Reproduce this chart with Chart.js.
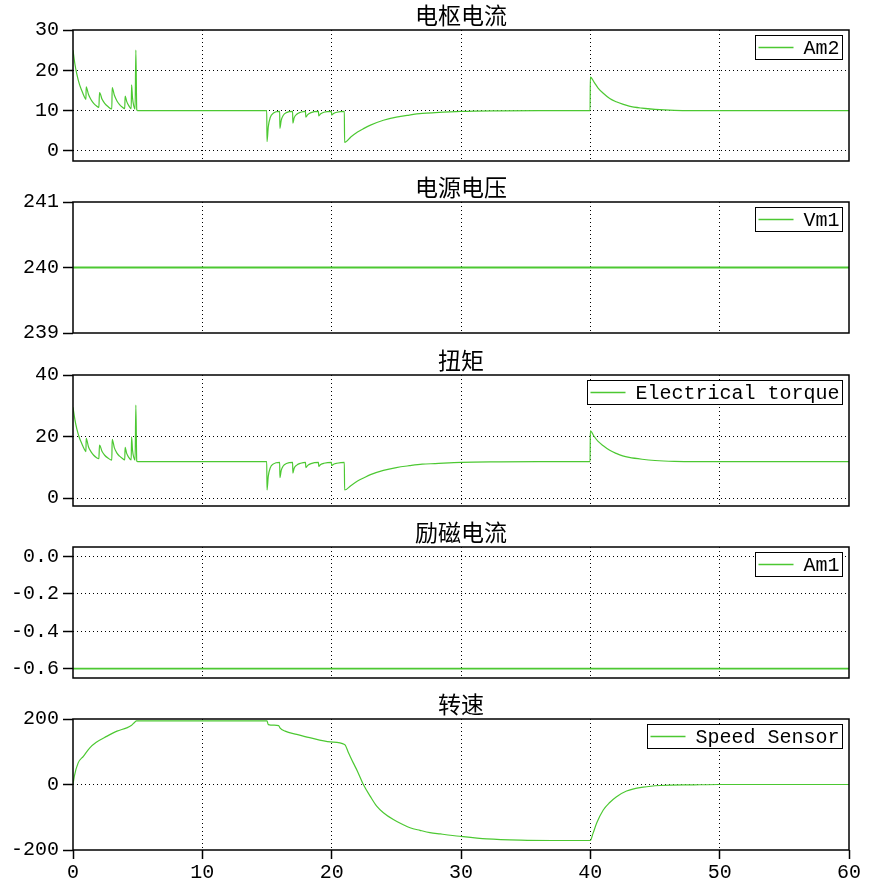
<!DOCTYPE html>
<html>
<head>
<meta charset="utf-8">
<script src="https://cdn.jsdelivr.net/npm/chart.js@4.4.1/dist/chart.umd.min.js"></script>
<style>
html,body{margin:0;padding:0;background:#fff;}
#wrap{position:relative;width:885px;height:885px;background:#fff;overflow:hidden;}
#wrap canvas{position:absolute;left:0;}
</style>
</head>
<body>
<div id="wrap"></div>
<script>
// ---------- data ----------
const xTicks = [0, 10, 20, 30, 40, 50, 60];

const titles = ['电枢电流', '电源电压', '扭矩', '励磁电流', '转速'];
const seriesLabels = ['Am2', 'Vm1', 'Electrical torque', 'Am1', 'Speed Sensor'];

// shared time base for armature current and torque (s)
const dynTimes = [
  0, 0.15, 0.3, 0.5, 0.7, 0.85, 1.0,
  1.02, 1.2, 1.4, 1.6, 1.8, 2.0,
  2.05, 2.25, 2.45, 2.7, 3.0,
  3.03, 3.2, 3.4, 3.6, 3.8, 4.0,
  4.03, 4.15, 4.3, 4.5,
  4.53, 4.6, 4.7, 4.8,
  4.86, 4.93, 5.0,
  14.98, 15.0, 15.1, 15.25, 15.5, 15.98,
  16.0, 16.1, 16.25, 16.5, 16.98,
  17.0, 17.1, 17.3, 17.6, 17.98,
  18.0, 18.15, 18.4, 18.98,
  19.0, 19.15, 19.4, 19.98,
  20.0, 20.15, 20.4, 20.98,
  21.0, 21.5, 22, 22.5, 23, 24, 25, 26, 27, 28, 30, 33, 36, 39.98,
  40.0, 40.3, 40.6, 41.0, 41.5, 42.0, 42.5, 43.0, 44.0, 45.0, 46.5, 48, 60
];

const armatureCurrent = [
  25, 21.5, 19.0, 16.5, 14.8, 13.6, 12.8,
  15.9, 14.0, 12.7, 11.8, 11.2, 10.8,
  14.5, 12.8, 11.8, 11.0, 10.4,
  15.7, 13.8, 12.4, 11.5, 10.9, 10.5,
  13.6, 12.3, 11.3, 10.5,
  16.4, 13.2, 11.2, 10.4,
  25, 10.2, 10,
  10, 2.3, 6.0, 8.3, 9.4, 9.8,
  5.6, 7.6, 8.8, 9.5, 9.8,
  6.9, 8.2, 9.1, 9.6, 9.8,
  8.4, 9.0, 9.5, 9.8,
  8.7, 9.2, 9.6, 9.8,
  8.9, 9.3, 9.6, 9.8,
  2.1, 3.5, 4.7, 5.6, 6.4, 7.6, 8.4, 8.9, 9.3, 9.5, 9.8, 9.95, 10, 10,
  18.3, 17.0, 15.6, 14.3, 13.0, 12.2, 11.6, 11.1, 10.6, 10.3, 10.05, 10, 10
];

const electricalTorque = [
  29.5, 25.4, 22.4, 19.5, 17.5, 16.1, 15.1,
  19.4, 16.6, 15.0, 13.9, 13.2, 12.8,
  17.2, 15.1, 13.9, 13.0, 12.3,
  19.1, 16.3, 14.6, 13.6, 12.9, 12.4,
  16.5, 14.5, 13.3, 12.4,
  19.9, 15.6, 13.2, 12.3,
  30.2, 12.0, 11.8,
  11.8, 2.6, 7.1, 9.8, 11.1, 11.6,
  6.6, 9.0, 10.4, 11.2, 11.6,
  8.1, 9.7, 10.7, 11.3, 11.6,
  9.9, 10.6, 11.2, 11.6,
  10.3, 10.9, 11.3, 11.6,
  10.5, 11.0, 11.3, 11.6,
  2.6, 4.1, 5.5, 6.6, 7.6, 9.0, 9.9, 10.5, 11.0, 11.2, 11.6, 11.75, 11.8, 11.8,
  21.8, 20.0, 18.4, 17.0, 15.5, 14.5, 13.7, 13.2, 12.6, 12.2, 11.9, 11.8, 11.8
];

const voltTimes = [0, 60];
const supplyVoltage = [240, 240];

const fieldTimes = [0, 60];
const fieldCurrent = [-0.6, -0.6];

const speedTimes = [
  0, 0.1, 0.4, 0.8, 1.3, 1.8, 2.6, 3.4, 4.15, 4.5,
  4.79, 4.9, 15.0, 15.1, 15.9, 16.0, 16.4, 17.3, 18.3, 19.9,
  21.0, 21.3, 21.67, 22.0, 22.45, 23.0, 23.48, 24.0, 24.77, 25.5,
  26.06, 26.83, 27.6, 28.4, 29.9, 32.0, 34.6, 37.0, 40.0, 40.2,
  40.5, 41.0, 41.5, 42.0, 42.8, 44.1, 45.4, 48, 50, 60
];
const speedValues = [
  0, 25, 66, 86, 112, 129, 147, 163, 173, 180,
  191, 194, 194, 183, 180, 173, 163, 153, 143, 130,
  122, 97, 66, 40, 0, -37, -66, -86, -107, -122,
  -132, -140, -147, -151, -158, -166, -170, -171, -171, -150,
  -117, -78, -55, -38, -20, -8, -3, -1, 0, 0
];

// y ticks and labels
const yTicks1 = [0, 10, 20, 30];       const yLabels1 = ['0', '10', '20', '30'];
const yTicks2 = [239, 240, 241];       const yLabels2 = ['239', '240', '241'];
const yTicks3 = [0, 20, 40];           const yLabels3 = ['0', '20', '40'];
const yTicks4 = [-0.6, -0.4, -0.2, 0]; const yLabels4 = ['-0.6', '-0.4', '-0.2', '0.0'];
const yTicks5 = [-200, 0, 200];        const yLabels5 = ['-200', '0', '200'];

// ---------- styling / layout ----------
const GREEN = 'rgb(76,200,50)';
const TICK_FONT = { family: '"Liberation Mono", monospace', size: 20 };
const LEGEND_FONT = '20px "Liberation Mono", monospace';
const TITLE_FONT = '23px "Noto Sans CJK SC", sans-serif';

const panels = [
  { title: titles[0], label: seriesLabels[0], times: dynTimes, values: armatureCurrent, yMin: -2.5, yMax: 30, yTicks: yTicks1, yLabels: yLabels1, plotTop: 30, plotBottom: 161, showX: false, lw: 1.2 },
  { title: titles[1], label: seriesLabels[1], times: voltTimes, values: supplyVoltage, yMin: 239, yMax: 241, yTicks: yTicks2, yLabels: yLabels2, plotTop: 202, plotBottom: 333, showX: false, lw: 1.8 },
  { title: titles[2], label: seriesLabels[2], times: dynTimes, values: electricalTorque, yMin: -2.6, yMax: 40, yTicks: yTicks3, yLabels: yLabels3, plotTop: 375, plotBottom: 506, showX: false, lw: 1.2 },
  { title: titles[3], label: seriesLabels[3], times: fieldTimes, values: fieldCurrent, yMin: -0.65, yMax: 0.05, yTicks: yTicks4, yLabels: yLabels4, plotTop: 547, plotBottom: 678, showX: false, lw: 1.6 },
  { title: titles[4], label: seriesLabels[4], times: speedTimes, values: speedValues, yMin: -200, yMax: 200, yTicks: yTicks5, yLabels: yLabels5, plotTop: 719, plotBottom: 850, showX: true, lw: 1.2 }
];

function makeFrame(p) {
  return {
    id: 'frame',
    beforeDatasetsDraw(chart) {
      const { ctx, chartArea: a } = chart;
      const x = chart.scales.x, y = chart.scales.y;
      ctx.save();
      ctx.strokeStyle = '#000';
      ctx.lineWidth = 1;
      ctx.setLineDash([1, 3]);
      ctx.beginPath();
      xTicks.forEach(v => {
        if (v > x.min && v < x.max) {
          const px = Math.floor(x.getPixelForValue(v)) + 0.5;
          ctx.moveTo(px, a.top); ctx.lineTo(px, a.bottom);
        }
      });
      p.yTicks.forEach(v => {
        if (v > y.min && v < y.max) {
          const py = Math.floor(y.getPixelForValue(v)) + 0.5;
          ctx.moveTo(a.left, py); ctx.lineTo(a.right, py);
        }
      });
      ctx.stroke();
      ctx.restore();
    },
    afterDatasetsDraw(chart) {
      const { ctx, chartArea: a } = chart;
      ctx.save();
      // frame
      ctx.strokeStyle = '#000';
      ctx.lineWidth = 1.5;
      ctx.strokeRect(a.left, a.top, a.right - a.left, a.bottom - a.top);
      // legend
      const label = chart.data.datasets[0].label;
      ctx.font = LEGEND_FONT;
      const tw = ctx.measureText(label).width;
      const bw = Math.round(3 + 35 + 10 + tw + 3);
      const bh = 24;
      const bx = Math.round(a.right - 7 - bw) + 0.5;
      const by = Math.round(a.top + 5) + 0.5;
      ctx.fillStyle = '#fff';
      ctx.fillRect(bx, by, bw, bh);
      ctx.lineWidth = 1;
      ctx.strokeStyle = '#000';
      ctx.strokeRect(bx, by, bw, bh);
      ctx.strokeStyle = GREEN;
      ctx.lineWidth = 1.3;
      ctx.beginPath();
      ctx.moveTo(bx + 3, by + bh / 2);
      ctx.lineTo(bx + 38, by + bh / 2);
      ctx.stroke();
      ctx.fillStyle = '#000';
      ctx.textBaseline = 'middle';
      ctx.textAlign = 'left';
      ctx.fillText(label, bx + 48, by + bh / 2 + 1);
      // title
      ctx.font = TITLE_FONT;
      ctx.textAlign = 'center';
      ctx.fillText(p.title, (a.left + a.right) / 2, a.top - 15);
      ctx.restore();
    }
  };
}

const wrap = document.getElementById('wrap');

panels.forEach(p => {
  const canvas = document.createElement('canvas');
  const cTop = p.plotTop - 30;
  const bottomExtra = p.showX ? 35 : 15;
  const h = (p.plotBottom - p.plotTop) + 30 + bottomExtra;
  canvas.width = 885;
  canvas.height = h;
  canvas.style.width = '885px';
  canvas.style.height = h + 'px';
  canvas.style.top = cTop + 'px';
  wrap.appendChild(canvas);

  new Chart(canvas, {
    type: 'line',
    data: {
      datasets: [{
        label: p.label,
        data: p.times.map((t, i) => ({ x: t, y: p.values[i] })),
        borderColor: GREEN,
        borderWidth: p.lw,
        pointRadius: 0,
        fill: false,
        cubicInterpolationMode: 'monotone'
      }]
    },
    options: {
      responsive: false,
      animation: false,
      devicePixelRatio: 1,
      events: [],
      layout: { padding: { top: 30, bottom: p.showX ? 0 : 15, left: 0, right: 36 } },
      plugins: { legend: { display: false }, tooltip: { enabled: false }, title: { display: false } },
      scales: {
        x: {
          type: 'linear',
          min: 0, max: 60,
          afterBuildTicks: s => { s.ticks = xTicks.map(v => ({ value: v })); },
          afterFit: s => { s.height = p.showX ? 35 : 0; s.paddingLeft = 0; s.paddingRight = 0; },
          grid: { display: p.showX, drawOnChartArea: false, drawTicks: true, tickLength: 9, tickColor: '#000', tickWidth: 1.5 },
          border: { display: false },
          ticks: { display: p.showX, color: '#000', font: TICK_FONT, padding: 2, maxRotation: 0, autoSkip: false }
        },
        y: {
          type: 'linear',
          min: p.yMin, max: p.yMax,
          afterBuildTicks: s => { s.ticks = p.yTicks.map(v => ({ value: v })); },
          afterFit: s => { s.width = 73; s.paddingTop = 0; s.paddingBottom = 0; },
          grid: { display: true, drawOnChartArea: false, drawTicks: true, tickLength: 10, tickColor: '#000', tickWidth: 1.5 },
          border: { display: false },
          ticks: {
            color: '#000', font: TICK_FONT, padding: 4, autoSkip: false,
            callback: (v) => p.yLabels[p.yTicks.indexOf(v)]
          }
        }
      }
    },
    plugins: [makeFrame(p)]
  });
});
</script>
</body>
</html>
